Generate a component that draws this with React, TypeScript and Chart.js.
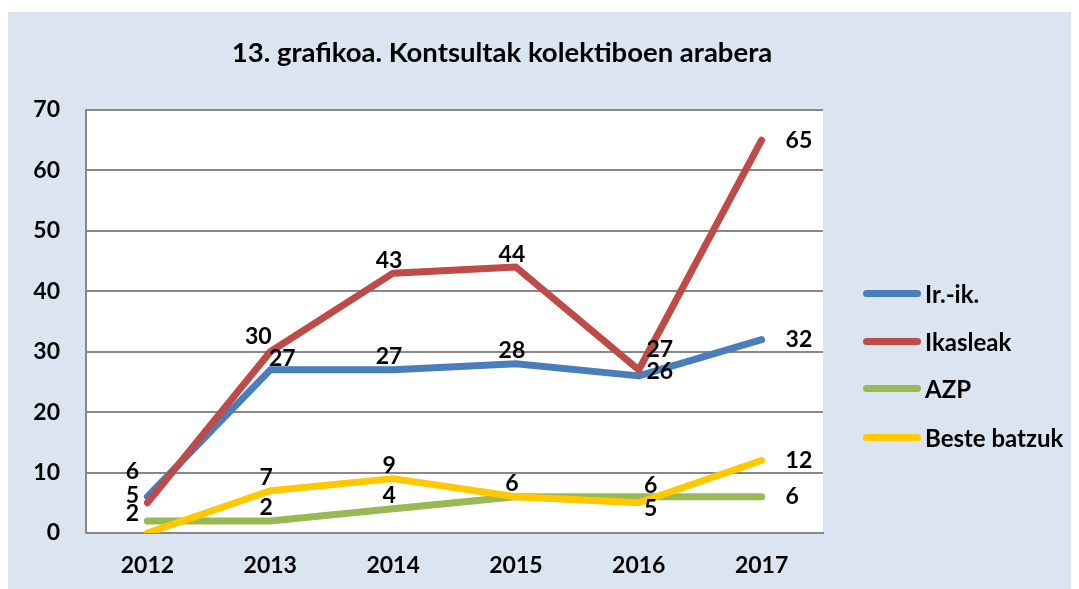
import React, { useEffect, useRef } from "react";
import { Chart, registerables } from "chart.js";

Chart.register(...registerables);

// ---- data ----
const categories = ["2012", "2013", "2014", "2015", "2016", "2017"];
const irIk = [6, 27, 27, 28, 26, 32];
const ikasleak = [5, 30, 43, 44, 27, 65];
const azp = [2, 2, 4, 6, 6, 6];
const besteBatzuk = [0, 7, 9, 6, 5, 12];
const seriesNames = ["Ir.-ik.", "Ikasleak", "AZP", "Beste batzuk"];
const titleText = "13. grafikoa. Kontsultak kolektiboen arabera";
const yMin = 0;
const yMax = 70;
const yStep = 10;

// ---- styles ----
const colors = ["#4a7ebb", "#be4b48", "#98b954", "#ffc800"];
const FONT = 'Lato, "Open Sans", "DejaVu Sans", sans-serif';
const PANEL_BG = "#dbe5f1";
const GRID = "#888888";

// label placement per point (style only)
const labelPlacement = [
  ["al", "ar", "a", "a", "r2", "r"],
  ["l", "al2", "a", "a", "ar2", "r"],
  ["l", "a", "a", "none", "ar", "r"],
  ["none", "a", "a", "a", "br", "r"],
];
const placementOffsets: Record<string, [number, number, CanvasTextAlign]> = {
  a: [-4, -13, "center"],
  al: [-15, -25, "center"],
  l: [-15, -7, "center"],
  ar: [12, -11, "center"],
  al2: [-12, -15, "center"],
  r: [24, 0, "left"],
  r2: [21, -4, "center"],
  ar2: [21, -20, "center"],
  br: [12, 6, "center"],
};

const plotBgPlugin = {
  id: "plotBg",
  beforeDraw(chart: any) {
    const { ctx, chartArea } = chart;
    ctx.save();
    ctx.fillStyle = "#ffffff";
    ctx.fillRect(chartArea.left, chartArea.top, chartArea.right - chartArea.left, chartArea.bottom - chartArea.top);
    ctx.restore();
  },
};

const dataLabelPlugin = {
  id: "dataLabels",
  afterDatasetsDraw(chart: any) {
    const { ctx } = chart;
    ctx.save();
    ctx.font = `bold 23px ${FONT}`;
    ctx.fillStyle = "#000000";
    ctx.textBaseline = "middle";
    chart.data.datasets.forEach((ds: any, di: number) => {
      const meta = chart.getDatasetMeta(di);
      meta.data.forEach((pt: any, i: number) => {
        const p = labelPlacement[di][i];
        if (p === "none") return;
        const [dx, dy, align] = placementOffsets[p];
        ctx.textAlign = align;
        ctx.fillText(String(ds.data[i]), pt.x + dx, pt.y + dy);
      });
    });
    ctx.restore();
  },
};

export default function App() {
  const ref = useRef<HTMLCanvasElement>(null);

  useEffect(() => {
    if (!ref.current) return;
    const all = [irIk, ikasleak, azp, besteBatzuk];
    const chart = new Chart(ref.current, {
      type: "line",
      data: {
        labels: categories,
        datasets: all.map((d, i) => ({
          label: seriesNames[i],
          data: d,
          borderColor: colors[i],
          backgroundColor: colors[i],
          borderWidth: 7,
          borderCapStyle: "round",
          borderJoinStyle: "round",
          pointRadius: 0,
          pointHoverRadius: 0,
          tension: 0,
          fill: false,
          order: 3 - i,
        })),
      },
      options: {
        responsive: false,
        maintainAspectRatio: false,
        animation: false,
        layout: { padding: { left: 0, top: 98, right: 256, bottom: 0 } },
        plugins: {
          legend: { display: false },
          title: { display: false },
          tooltip: { enabled: false },
        },
        scales: {
          x: {
            offset: true,
            grid: { display: false, drawTicks: false },
            border: { display: true, color: GRID, width: 2 },
            ticks: {
              color: "#000",
              font: { family: FONT, size: 23, weight: "bold" },
              padding: 19,
              maxRotation: 0,
            },
            afterFit(scale: any) {
              scale.height = 56;
            },
          },
          y: {
            min: yMin,
            max: yMax,
            ticks: {
              stepSize: yStep,
              color: "#000",
              font: { family: FONT, size: 23, weight: "bold" },
              padding: 26,
            },
            grid: { color: GRID, lineWidth: 2, drawTicks: false },
            border: { display: true, color: GRID, width: 2 },
            afterFit(scale: any) {
              scale.width = 78;
            },
          },
        },
      },
      plugins: [plotBgPlugin, dataLabelPlugin],
    } as any);
    return () => chart.destroy();
  }, []);

  const legendRowsY = [281, 329, 376, 425];

  return (
    <div
      style={{
        position: "relative",
        marginTop: 4,
        width: 1071,
        height: 577,
        background: PANEL_BG,
        fontFamily: FONT,
      }}
    >
      <canvas ref={ref} width={1071} height={577} style={{ display: "block" }} />
      <div
        style={{
          position: "absolute",
          left: 94,
          width: 800,
          top: 23,
          lineHeight: "34px",
          textAlign: "center",
          fontWeight: "bold",
          fontSize: 27.5,
          color: "#000",
        }}
      >
        {titleText}
      </div>
      {seriesNames.map((name, i) => (
        <div
          key={name}
          style={{
            position: "absolute",
            left: 855,
            top: legendRowsY[i] - 15,
            height: 30,
            display: "flex",
            alignItems: "center",
            fontWeight: "bold",
            fontSize: 24,
            color: "#000",
            whiteSpace: "nowrap",
          }}
        >
          <span
            style={{
              display: "inline-block",
              width: 58,
              height: 7,
              borderRadius: 4,
              background: colors[i],
              marginRight: 4,
            }}
          />
          {name}
        </div>
      ))}
    </div>
  );
}
